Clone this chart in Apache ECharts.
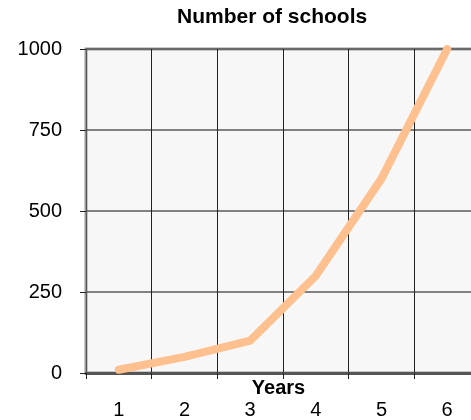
<!DOCTYPE html>
<html>
<head>
<meta charset="utf-8">
<style>
  html, body { margin: 0; padding: 0; background: #ffffff; }
  #chart { width: 471px; height: 420px; }
</style>
<script src="https://cdn.jsdelivr.net/npm/echarts@6/dist/echarts.min.js"></script>
</head>
<body>
<div id="chart"></div>
<script>
const titleText = 'Number of schools';
const xAxisName = 'Years';
const categories = ['1', '2', '3', '4', '5', '6'];
const schools = [10, 50, 100, 300, 600, 1000];
const yTicks = { min: 0, max: 1000, interval: 250 };

const FONT = '"Liberation Sans", Arial, sans-serif';
const chart = echarts.init(document.getElementById('chart'), null, { renderer: 'canvas' });
chart.setOption({
  backgroundColor: '#ffffff',
  animation: false,
  title: {
    text: titleText,
    left: 177,
    top: 7,
    padding: 0,
    textStyle: { fontFamily: FONT, fontSize: 21, fontWeight: 'bold', color: '#000' }
  },
  grid: {
    left: 86, top: 49, right: -9, bottom: 47,
    containLabel: false,
    outerBoundsMode: 'none',
    show: true,
    backgroundColor: '#f7f7f7',
    borderColor: '#9a9a9a',
    borderWidth: 3
  },
  xAxis: {
    type: 'category',
    data: categories,
    boundaryGap: true,
    name: xAxisName,
    nameLocation: 'middle',
    nameGap: 5,
    nameMoveOverlap: false,
    nameTextStyle: { fontFamily: FONT, fontSize: 20, fontWeight: 'bold', color: '#000', padding: [0, 9, 0, 0] },
    axisLine: { show: true, lineStyle: { color: '#555', width: 3 } },
    axisTick: { show: true, alignWithLabel: false, length: 6, lineStyle: { color: '#222', width: 1 } },
    axisLabel: { fontFamily: FONT, fontSize: 20, color: '#000', margin: 27, hideOverlap: false },
    splitLine: { show: true, lineStyle: { color: '#222', width: 1 } }
  },
  yAxis: {
    type: 'value',
    min: yTicks.min,
    max: yTicks.max,
    interval: yTicks.interval,
    axisLine: { show: true, lineStyle: { color: '#555', width: 1 } },
    axisTick: { show: true, length: 6, lineStyle: { color: '#222', width: 1 } },
    axisLabel: { fontFamily: FONT, fontSize: 20, color: '#000', margin: 24, formatter: function (v) { return String(v); } },
    splitLine: { show: true, lineStyle: { color: '#5a5a5a', width: 1.5 } }
  },
  series: [{
    type: 'line',
    data: schools,
    showSymbol: false,
    symbol: 'none',
    clip: true,
    lineStyle: { color: '#fdc08e', width: 8, cap: 'round', join: 'miter' },
    z: 3
  }]
});
</script>
</body>
</html>
